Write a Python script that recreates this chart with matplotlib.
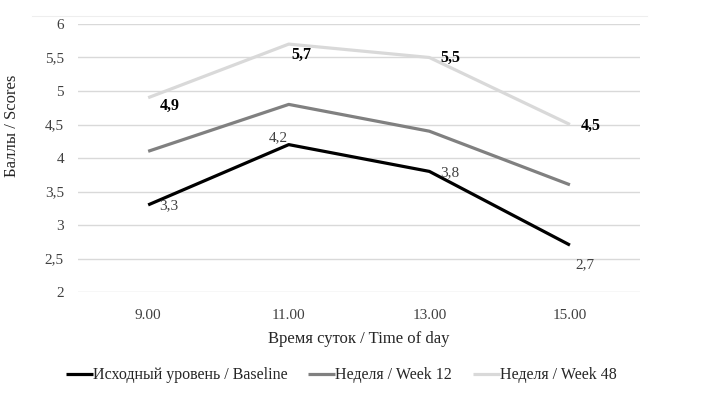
import matplotlib
matplotlib.use("Agg")
import matplotlib.pyplot as plt
from matplotlib.lines import Line2D

plt.rcParams['font.family'] = ['Liberation Serif', 'DejaVu Serif']

times = ["9.00", "11.00", "13.00", "15.00"]
baseline = [3.3, 4.2, 3.8, 2.7]
week12 = [4.1, 4.8, 4.4, 3.6]
week48 = [4.9, 5.7, 5.5, 4.5]
yticks = [2, 2.5, 3, 3.5, 4, 4.5, 5, 5.5, 6]

fig = plt.figure(figsize=(7.21, 3.96), dpi=100)
ax = fig.add_axes([0.108, 0.2626, 0.780, 0.6768])

x = list(range(len(times)))
ax.plot(x, baseline, color="black", lw=2.3, label="Исходный уровень / Baseline", solid_capstyle="butt")
ax.plot(x, week12, color="#808080", lw=2.3, label="Неделя / Week 12", solid_capstyle="butt")
ax.plot(x, week48, color="#d9d9d9", lw=2.3, label="Неделя / Week 48", solid_capstyle="butt")

# data labels
base_off = [(8, -0.7), (-0.7, 5), (8, -0.7), (3.6, -14.4)]
base_ha = ["left", "right", "left", "left"]
for i, v in enumerate(baseline):
    ax.annotate(("%.1f" % v).replace(".", ","), (x[i], v), xytext=base_off[i],
                textcoords="offset points", ha=base_ha[i], va="center",
                fontsize=11, color="#404040")

w48_off = [(8, -5.8), (2.2, -8), (8, 0), (8, -0.7)]
for i, v in enumerate(week48):
    ax.annotate(("%.1f" % v).replace(".", ","), (x[i], v), xytext=w48_off[i],
                textcoords="offset points", ha="left", va="center",
                fontsize=11.5, color="black", fontweight="bold")

ax.set_xlim(-0.5, 3.5)
ax.set_ylim(2, 6)
ax.set_xticks(x)
ax.set_xticklabels(times)
ax.set_yticks(yticks)
ax.set_yticklabels([("%g" % t).replace(".", ",") for t in yticks])
ax.tick_params(length=0, labelsize=11, colors="#404040", pad=10)
ax.tick_params(axis="x", pad=12)
ax.grid(axis="y", color="#d9d9d9", lw=1)
ax.set_axisbelow(True)
for s in ax.spines.values():
    s.set_visible(False)

ax.set_xlabel("Время суток / Time of day", fontsize=12, color="#262626", labelpad=7)
ax.set_ylabel("Баллы / Scores", fontsize=12, color="#262626")
ax.yaxis.set_label_coords(-0.103, 0.62)

ax.legend(loc="center", bbox_to_anchor=(0.468, -0.31), ncol=3, frameon=False,
          fontsize=11.5, handlelength=1.7, handletextpad=0.0, columnspacing=1.3,
          labelcolor="#262626")

# faint chart border at the top
fig.add_artist(Line2D([0.044, 0.897], [0.96, 0.96], color="#eeeeee", lw=0.8))

fig.savefig("out.png", dpi=100)
